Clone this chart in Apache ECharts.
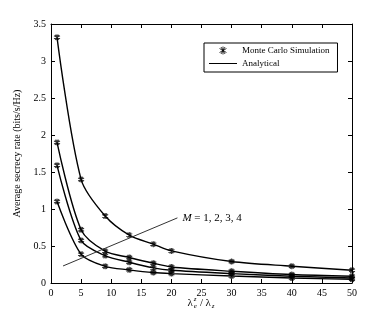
<!DOCTYPE html>
<html>
<head>
<meta charset="utf-8">
<script src="https://cdn.jsdelivr.net/npm/echarts@6/dist/echarts.min.js"></script>
<style>html,body{margin:0;padding:0;background:#fff}#c{width:388px;height:318px}</style>
</head>
<body>
<div id="c"></div>
<script>
var ratios = [1, 5, 9, 13, 17, 20, 30, 40, 50];
var rateM4 = [3.32, 1.40, 0.905, 0.647, 0.525, 0.434, 0.29, 0.227, 0.172];
var rateM3 = [1.90, 0.72, 0.43, 0.345, 0.267, 0.217, 0.159, 0.114, 0.091];
var rateM2 = [1.59, 0.575, 0.37, 0.28, 0.204, 0.172, 0.127, 0.091, 0.068];
var rateM1 = [1.10, 0.39, 0.225, 0.178, 0.141, 0.127, 0.095, 0.068, 0.05];
var arrowStart = [2, 0.23];
var arrowEnd = [21, 0.88];
var xTicks = [0, 5, 10, 15, 20, 25, 30, 35, 40, 45, 50];
var yTicks = [0, 0.5, 1, 1.5, 2, 2.5, 3, 3.5];

var FONT = '"Liberation Serif", "DejaVu Serif", serif';
var STAR = 'path://M0,-1L0,1M-0.87,-0.5L0.87,0.5M-0.87,0.5L0.87,-0.5M-0.5,-0.87L0.5,0.87M0.5,-0.87L-0.5,0.87';
var LINEICON = 'path://M0,0L0.01,0L0.01,0.01Z M0,3.55H28V4.45H0Z M27.99,7.99L28,7.99L28,8Z';

function pts(v){ return ratios.map(function(x,i){ return [x, v[i]]; }); }
var curves = [rateM1, rateM2, rateM3, rateM4];

var series = [];
curves.forEach(function(c, i){
  series.push({
    name: 'Analytical', type: 'line', data: pts(c), smooth: 0.3,
    showSymbol: false, symbol: 'none',
    lineStyle: {color: '#000', width: 1.4}, itemStyle: {color:'#000'},
    z: 3, silent: true
  });
  series.push({
    name: 'Monte Carlo Simulation', type: 'scatter', data: pts(c),
    symbol: STAR, symbolSize: 6,
    itemStyle: {color: 'rgba(0,0,0,0)', borderColor: '#000', borderWidth: 1.1},
    z: 4, silent: true
  });
});
series.push({
  type: 'line', data: [], silent: true,
  markLine: {
    silent: true, symbol: ['none', 'arrow'], symbolSize: [0, 7],
    label: {show: false},
    lineStyle: {color: '#333', width: 1, type: 'solid'},
    data: [[{coord: arrowStart}, {coord: arrowEnd}]]
  }
});

var xMin = xTicks[0], xMax = xTicks[xTicks.length-1];
var yMin = yTicks[0], yMax = yTicks[yTicks.length-1];
function axisBase(show){
  return {
    axisLine: {show: true, onZero: false, lineStyle: {color: '#000', width: 1}},
    axisTick: {show: true, inside: true, length: 4, lineStyle: {color: '#000'}},
    axisLabel: {show: show, color: '#000', fontFamily: FONT, fontSize: 10},
    splitLine: {show: false}
  };
}
var chart = echarts.init(document.getElementById('c'), null, {renderer: 'canvas'});
var option = {
  animation: false,
  backgroundColor: '#fff',
  grid: {left: 51, right: 36, top: 24, bottom: 35},
  legend: {
    orient: 'vertical', left: 204, top: 43,
    borderColor: '#000', borderWidth: 1, borderRadius: 0,
    padding: [3, 8, 4, 5], itemWidth: 28, itemHeight: 8, itemGap: 4,
    textStyle: {fontFamily: FONT, fontSize: 9, color: '#000'},
    data: [
      {name: 'Monte Carlo Simulation', icon: STAR, itemStyle: {color: 'rgba(0,0,0,0)', borderColor:'#000', borderWidth: 1}},
      {name: 'Analytical', icon: LINEICON, itemStyle: {color: '#000', borderWidth: 0}}
    ],
    selectedMode: false
  },
  xAxis: [
    Object.assign(axisBase(true), {type: 'value', min: xMin, max: xMax, interval: 5, position: 'bottom',
      axisLabel: {show: true, color: '#000', fontFamily: FONT, fontSize: 10, margin: 5}}),
    Object.assign(axisBase(false), {type: 'value', min: xMin, max: xMax, interval: 5, position: 'top'})
  ],
  yAxis: [
    Object.assign(axisBase(true), {type: 'value', min: yMin, max: yMax, interval: 0.5, position: 'left',
      name: 'Average secrecy rate (bits/s/Hz)', nameLocation: 'middle', nameGap: 29, nameRotate: 90,
      nameTextStyle: {fontFamily: FONT, fontSize: 10, color: '#000'},
      axisLabel: {show: true, color: '#000', fontFamily: FONT, fontSize: 10, margin: 5}}),
    Object.assign(axisBase(false), {type: 'value', min: yMin, max: yMax, interval: 0.5, position: 'right'})
  ],
  series: series
};
chart.setOption(option);

var lab = chart.convertToPixel({gridIndex: 0}, arrowEnd);
var xm = chart.convertToPixel({xAxisIndex: 0}, (xMin + xMax) / 2);
var base = 303;
var lx = xm - 14;
chart.setOption({
  graphic: [
    {type: 'text', left: lab[0] + 5, top: lab[1] - 5, silent: true,
     style: {text: '{i|M} = 1, 2, 3, 4', fontFamily: FONT, fontSize: 11, fill: '#000',
       rich: {i: {fontStyle: 'italic', fontFamily: FONT, fontSize: 11}}}},
    {type: 'group', silent: true, children: [
      {type: 'text', x: lx, y: base, style: {text: 'λ', fontFamily: FONT, fontSize: 11, fill: '#000', verticalAlign: 'middle'}},
      {type: 'text', x: lx + 6.2, y: base - 4, style: {text: 'z', fontFamily: FONT, fontSize: 7, fontStyle: 'italic', fill: '#000', verticalAlign: 'middle'}},
      {type: 'text', x: lx + 6.2, y: base + 3, style: {text: 'e', fontFamily: FONT, fontSize: 7, fontStyle: 'italic', fill: '#000', verticalAlign: 'middle'}},
      {type: 'text', x: lx + 12.5, y: base, style: {text: '/', fontFamily: FONT, fontSize: 11, fill: '#000', verticalAlign: 'middle'}},
      {type: 'text', x: lx + 18, y: base, style: {text: 'λ', fontFamily: FONT, fontSize: 11, fill: '#000', verticalAlign: 'middle'}},
      {type: 'text', x: lx + 24.2, y: base + 3, style: {text: 'z', fontFamily: FONT, fontSize: 7, fontStyle: 'italic', fill: '#000', verticalAlign: 'middle'}}
    ]}
  ]
});
</script>
</body>
</html>
